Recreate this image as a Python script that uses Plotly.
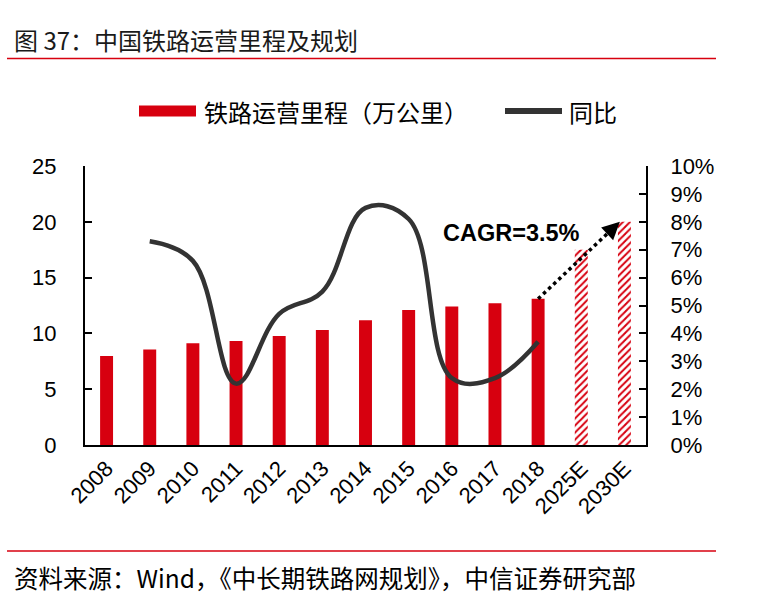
import plotly.graph_objects as go

# ---------------- data ----------------
categories = ["2008", "2009", "2010", "2011", "2012", "2013", "2014",
              "2015", "2016", "2017", "2018", "2025E", "2030E"]
mileage = [7.97, 8.55, 9.12, 9.32, 9.76, 10.31, 11.18,
           12.10, 12.40, 12.70, 13.10, 17.50, 20.00]          # 万公里
yoy = [None, 0.073, 0.066, 0.022, 0.047, 0.055, 0.085,
       0.081, 0.024, 0.024, 0.037, None, None]                 # 同比
forecast = [False] * 11 + [True] * 2
left_ticks = [0, 5, 10, 15, 20, 25]
right_ticks = [0.00, 0.01, 0.02, 0.03, 0.04, 0.05, 0.06, 0.07, 0.08, 0.09, 0.10]

title_text = "图 37：中国铁路运营里程及规划"
bar_name = "铁路运营里程（万公里）"
line_name = "同比"
cagr_text = "CAGR=3.5%"
source_text = "资料来源：Wind，《中长期铁路网规划》，中信证券研究部"

# ---------------- style ----------------
W, H = 773, 605
ML, MR, MT, MB = 85, 127, 166, 160
PW, PH = W - ML - MR, H - MT - MB
RED = "#D7000F"
DARK = "#333333"
LAT = "Liberation Sans, Arial, sans-serif"
CJK = "Noto Sans CJK SC, sans-serif"
BAR_W = 0.3
TICK_SIZE = 22


def px(x):
    return (x - ML) / PW


def py(y):
    return (H - MB - y) / PH


idx = list(range(len(categories)))

fig = go.Figure()

fig.add_trace(go.Bar(
    x=idx, y=mileage, width=BAR_W, name=bar_name, showlegend=False,
    marker=dict(
        color=RED, line=dict(width=0),
        pattern=dict(shape=["/" if f else "" for f in forecast],
                     fgcolor=RED, bgcolor="white", fillmode="replace",
                     size=5, solidity=0.4),
    ),
    yaxis="y",
))

fig.add_trace(go.Scatter(
    x=idx, y=yoy, mode="lines", name=line_name, showlegend=False,
    line=dict(color=DARK, width=4.5, shape="spline", smoothing=1.1),
    connectgaps=False, yaxis="y2",
))

# CAGR arrow: from 2018 bar top to 2030E bar top (dotted)
i0 = categories.index("2018")
i1 = categories.index("2030E")
x_tail, y_tail = idx[i0], mileage[i0]
x_tip, y_tip = idx[i1] - BAR_W * 0.35, mileage[i1]

shapes = [
    dict(type="line", xref="x", yref="y", x0=x_tail, y0=y_tail,
         x1=x_tail + 0.9 * (x_tip - x_tail), y1=y_tail + 0.9 * (y_tip - y_tail),
         line=dict(color="black", width=3.5, dash="dot")),
    # title underline
    dict(type="line", xref="paper", yref="paper", x0=px(7), x1=px(716),
         y0=py(58.5), y1=py(58.5), line=dict(color=RED, width=1.5)),
    # footer line
    dict(type="line", xref="paper", yref="paper", x0=px(7), x1=px(716),
         y0=py(551), y1=py(551), line=dict(color=RED, width=1.5)),
    # legend swatches
    dict(type="rect", xref="paper", yref="paper", x0=px(139), x1=px(196),
         y0=py(116.5), y1=py(105.5), fillcolor=RED, line=dict(width=0)),
    dict(type="line", xref="paper", yref="paper", x0=px(505), x1=px(562),
         y0=py(111), y1=py(111), line=dict(color=DARK, width=6)),
]

annotations = [
    dict(x=x_tip, y=y_tip, xref="x", yref="y", text="", showarrow=True,
         axref="x", ayref="y",
         ax=x_tip - 0.13 * (x_tip - x_tail), ay=y_tip - 0.13 * (y_tip - y_tail),
         arrowhead=2, arrowsize=1.0, arrowwidth=3.5, arrowcolor="black"),
    dict(x=9.38, y=19.0, xref="x", yref="y", text=cagr_text, showarrow=False,
         font=dict(family=LAT, size=23.5, color="black", weight="bold"),
         xanchor="center", yanchor="middle"),
    dict(x=px(12), y=py(40), xref="paper", yref="paper", text=title_text,
         showarrow=False, xanchor="left", yanchor="middle",
         font=dict(family=CJK, size=24, color="#1a1a1a")),
    dict(x=px(202), y=py(111), xref="paper", yref="paper", text=bar_name,
         showarrow=False, xanchor="left", yanchor="middle",
         font=dict(family=CJK, size=24, color="black")),
    dict(x=px(567), y=py(111), xref="paper", yref="paper", text=line_name,
         showarrow=False, xanchor="left", yanchor="middle",
         font=dict(family=CJK, size=24, color="black")),
    dict(x=px(12), y=py(577), xref="paper", yref="paper", text=source_text,
         showarrow=False, xanchor="left", yanchor="middle",
         font=dict(family=CJK, size=24.5, color="black")),
]

fig.update_layout(
    width=W, height=H,
    margin=dict(l=ML, r=MR, t=MT, b=MB, pad=0),
    paper_bgcolor="white", plot_bgcolor="white",
    barmode="overlay", showlegend=False,
    font=dict(family=LAT, size=TICK_SIZE, color="black"),
    xaxis=dict(
        range=[-0.5, len(categories) - 0.5], tickmode="array",
        tickvals=idx, ticktext=categories, tickangle=-45,
        showline=True, linecolor="black", linewidth=2, ticks="",
        showgrid=False, zeroline=False,
        tickfont=dict(family=LAT, size=TICK_SIZE, color="black"),
    ),
    yaxis=dict(
        range=[0, 25], tickmode="array", tickvals=left_ticks,
        ticks="inside", ticklen=7, tickwidth=2, tickcolor="black",
        showline=True, linecolor="black", linewidth=2,
        showgrid=False, zeroline=False, ticklabelstandoff=22,
        tickfont=dict(family=LAT, size=TICK_SIZE, color="black"),
    ),
    yaxis2=dict(
        range=[0, 0.10], overlaying="y", side="right", tickmode="array",
        tickvals=right_ticks, tickformat=".0%",
        ticks="inside", ticklen=7, tickwidth=2, tickcolor="black",
        showline=True, linecolor="black", linewidth=2,
        showgrid=False, zeroline=False, ticklabelstandoff=18,
        tickfont=dict(family=LAT, size=TICK_SIZE, color="black"),
    ),
    shapes=shapes,
    annotations=annotations,
)

fig.write_html(
    "out.html",
    config={"displayModeBar": False},
    post_script="document.body.style.margin='0px';document.body.style.overflow='hidden';",
)
